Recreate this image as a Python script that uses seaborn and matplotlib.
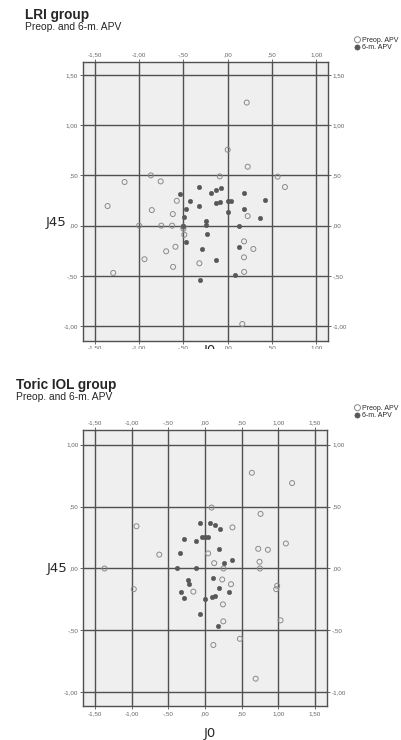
import matplotlib
matplotlib.use('Agg')
import matplotlib.pyplot as plt
import seaborn as sns
import pandas as pd
from matplotlib.ticker import FuncFormatter
from matplotlib.transforms import Bbox, TransformedBbox

# LRI group - preoperative APV (open circles)
lri_pre_j0 = [0.215, 0.0, 0.226, -0.868, -1.165, -0.757, -0.09, 0.564, 0.647, -1.357,
              -0.857, -0.575, -0.62, 0.226, -1.0, -0.75, -0.628, -0.5, -0.5, -0.49,
              -0.59, -0.695, -0.94, -0.617, -0.32, -1.293, 0.185, 0.29, 0.184, 0.186, 0.165]
lri_pre_j45 = [1.224, 0.755, 0.586, 0.5, 0.434, 0.44, 0.49, 0.487, 0.384, 0.195,
               0.155, 0.247, 0.115, 0.095, 0.0, 0.0, 0.0, -0.01, -0.03, -0.09,
               -0.21, -0.255, -0.334, -0.41, -0.374, -0.47, -0.156, -0.232, -0.315, -0.46, -0.978]

# LRI group - 6 month APV (filled circles)
lri_post_j0 = [-0.32, -0.538, -0.19, -0.128, -0.07, 0.185, 0.425, -0.429, -0.132, -0.087,
               0.0, 0.041, -0.32, -0.473, 0.0, 0.185, 0.365, -0.492, -0.25, -0.25,
               0.124, -0.5, -0.23, -0.473, -0.29, 0.124, -0.132, 0.085, -0.312]
lri_post_j45 = [0.382, 0.313, 0.325, 0.35, 0.372, 0.32, 0.252, 0.25, 0.223, 0.232,
                0.25, 0.25, 0.192, 0.17, 0.135, 0.162, 0.073, 0.09, 0.043, 0.01,
                0.0, 0.0, -0.088, -0.166, -0.233, -0.213, -0.344, -0.488, -0.54]

# Toric IOL group - preoperative APV
toric_pre_j0 = [0.64, 1.19, 0.09, 0.759, -0.936, 0.375, -0.625, 0.042, 0.727, 0.859,
                1.105, 0.125, 0.745, -1.373, 0.253, 0.75, -0.973, 0.235, 0.355, -0.159,
                0.986, 0.973, 0.245, 0.25, 1.032, 0.477, 0.114, 0.692]
toric_pre_j45 = [0.773, 0.69, 0.492, 0.441, 0.341, 0.332, 0.112, 0.122, 0.159, 0.151,
                 0.202, 0.043, 0.054, 0.0, 0.0, 0.0, -0.167, -0.089, -0.127, -0.187,
                 -0.14, -0.167, -0.29, -0.427, -0.419, -0.568, -0.618, -0.89]

# Toric IOL group - 6 month APV
toric_post_j0 = [-0.067, 0.072, 0.132, 0.198, -0.288, -0.129, -0.041, 0.0, 0.046, 0.196,
                 -0.347, 0.254, 0.375, -0.38, -0.129, 0.104, -0.228, -0.219, 0.196, -0.322,
                 0.325, -0.29, 0.097, 0.14, 0.005, -0.068, 0.173]
toric_post_j45 = [0.37, 0.37, 0.352, 0.322, 0.24, 0.219, 0.252, 0.252, 0.252, 0.159,
                  0.129, 0.042, 0.07, 0.0, 0.0, -0.08, -0.089, -0.128, -0.16, -0.187,
                  -0.187, -0.239, -0.228, -0.22, -0.25, -0.371, -0.468]

lri_xticks = [-1.5, -1.0, -0.5, 0.0, 0.5, 1.0]
lri_yticks = [-1.0, -0.5, 0.0, 0.5, 1.0, 1.5]
toric_xticks = [-1.5, -1.0, -0.5, 0.0, 0.5, 1.0, 1.5]
toric_yticks = [-1.0, -0.5, 0.0, 0.5, 1.0]

sns.set_style('white')
plt.rcParams['font.family'] = ['Liberation Sans', 'DejaVu Sans']

grid_col = '#505050'
open_col = '#8a8a8a'
fill_col = '#585858'


def comma_fmt(v, pos):
    # SPSS-Stil: 1,50 / ,50 / -,50
    s = f'{v:.2f}'.replace('.', ',')
    if s.startswith('0,'):
        s = s[1:]
    elif s.startswith('-0,'):
        s = '-' + s[2:]
    return s


def draw_panel(ax, pre_x, pre_y, post_x, post_y, xlim, ylim, xticks, yticks):
    ax.set_facecolor('#efefef')
    pre = pd.DataFrame({'J0': pre_x, 'J45': pre_y})
    post = pd.DataFrame({'J0': post_x, 'J45': post_y})
    sns.scatterplot(data=pre, x='J0', y='J45', ax=ax, marker='o', s=13,
                    color=open_col, linewidth=0.7, label='Preop. APV', zorder=3)
    ax.collections[-1].set_facecolor('none')
    ax.collections[-1].set_edgecolor(open_col)
    sns.scatterplot(data=post, x='J0', y='J45', ax=ax, marker='o', s=10,
                    color=fill_col, edgecolor=fill_col, linewidth=0.4,
                    label='6-m. APV', zorder=4)
    ax.set_xlim(xlim)
    ax.set_ylim(ylim)
    ax.set_xticks(xticks)
    ax.set_yticks(yticks)
    ax.xaxis.set_major_formatter(FuncFormatter(comma_fmt))
    ax.yaxis.set_major_formatter(FuncFormatter(comma_fmt))
    ax.grid(True, color=grid_col, linewidth=1.0, zorder=1)
    ax.set_axisbelow(True)
    ax.tick_params(axis='both', which='both', labelsize=4.5, labelcolor='#666666',
                   color=grid_col, length=2, width=0.6, pad=1.5,
                   top=True, labeltop=True, right=True, labelright=True,
                   bottom=True, labelbottom=True, left=True, labelleft=True)
    for sp in ax.spines.values():
        sp.set_color(grid_col)
        sp.set_linewidth(1.0)
    ax.set_ylabel('J45', rotation=0, fontsize=9.5, family=['DejaVu Sans'], va='center')
    ax.set_xlabel('J0', fontsize=9.5, family=['DejaVu Sans'])
    ax.legend(loc='upper left', bbox_to_anchor=(0.88, 0), bbox_transform=ax.figure.transFigure,
              frameon=False, fontsize=5, handletextpad=0.1, labelspacing=0.1,
              handlelength=1.0, borderaxespad=0, borderpad=0, markerscale=1.2)


fig = plt.figure(figsize=(4.02, 7.40), dpi=100)

# Oben: LRI
ax1 = fig.add_axes([0.2057, 0.5396, 0.6095, 0.377])
draw_panel(ax1, lri_pre_j0, lri_pre_j45, lri_post_j0, lri_post_j45,
           (-1.638, 1.13), (-1.144, 1.63), lri_xticks, lri_yticks)
ax1.legend_.set_bbox_to_anchor((354 / 402, 1 - 36.5 / 740), transform=fig.transFigure)
ax1.yaxis.set_label_coords(-0.109, 0.425)
ax1.xaxis.set_label_coords(0.52, -0.013)
ax1.xaxis.label.set_va('top')

# unterer Teil der oberen Grafik ist im Original abgeschnitten
cut = TransformedBbox(Bbox.from_extents(0, 1 - 349 / 740, 1, 1), fig.transFigure)
for t in ax1.get_xticklabels() + [ax1.xaxis.label]:
    t.set_clip_box(cut)
    t.set_clip_on(True)

fig.text(25 / 402, 1 - 19.5 / 740, 'LRI group', fontsize=9.8, fontweight='bold', va='baseline')
fig.text(25 / 402, 1 - 30 / 740, 'Preop. and 6-m. APV', fontsize=7.4, va='baseline')

# Unten: Toric IOL
ax2 = fig.add_axes([0.2072, 0.0459, 0.607, 0.3726])
draw_panel(ax2, toric_pre_j0, toric_pre_j45, toric_post_j0, toric_post_j45,
           (-1.663, 1.671), (-1.111, 1.116), toric_xticks, toric_yticks)
ax2.legend_.set_bbox_to_anchor((354 / 402, 1 - 404.5 / 740), transform=fig.transFigure)
ax2.yaxis.set_label_coords(-0.109, 0.5)
ax2.xaxis.set_label_coords(0.519, -0.075)
ax2.xaxis.label.set_va('top')

fig.text(16 / 402, 1 - 388.5 / 740, 'Toric IOL group', fontsize=9.8, fontweight='bold', va='baseline')
fig.text(16 / 402, 1 - 400.5 / 740, 'Preop. and 6-m. APV', fontsize=7.4, va='baseline')

plt.savefig('out.png', dpi=100)
